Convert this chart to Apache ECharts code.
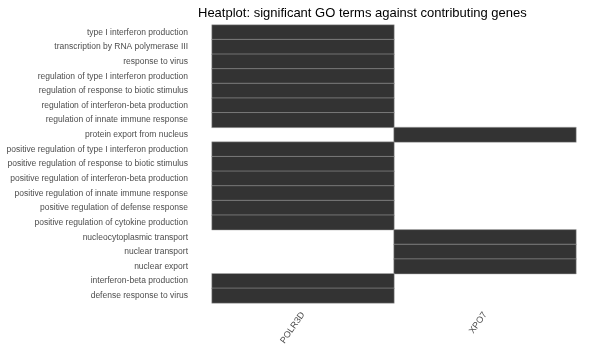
<!DOCTYPE html>
<html>
  <head>
    <meta charset="utf-8" />
    <title>Heatplot</title>
    <script src="https://cdn.jsdelivr.net/npm/echarts@6/dist/echarts.min.js"></script>
    <style>
      * {
        padding: 0;
        margin: 0;
      }
      #chart-panel {
        width: 600px;
        height: 350px;
      }
    </style>
  </head>
  <body>
    <div id="chart-panel"></div>
    <script type="text/javascript">
      var myChart = echarts.init(document.getElementById("chart-panel"));

      // GO terms, top to bottom
      const terms = [
        "type I interferon production",
        "transcription by RNA polymerase III",
        "response to virus",
        "regulation of type I interferon production",
        "regulation of response to biotic stimulus",
        "regulation of interferon-beta production",
        "regulation of innate immune response",
        "protein export from nucleus",
        "positive regulation of type I interferon production",
        "positive regulation of response to biotic stimulus",
        "positive regulation of interferon-beta production",
        "positive regulation of innate immune response",
        "positive regulation of defense response",
        "positive regulation of cytokine production",
        "nucleocytoplasmic transport",
        "nuclear transport",
        "nuclear export",
        "interferon-beta production",
        "defense response to virus",
      ];

      const genes = ["POLR3D", "XPO7"];

      // contributing gene for each term (same order as terms)
      const termGene = [
        "POLR3D", "POLR3D", "POLR3D", "POLR3D", "POLR3D", "POLR3D", "POLR3D",
        "XPO7",
        "POLR3D", "POLR3D", "POLR3D", "POLR3D", "POLR3D", "POLR3D",
        "XPO7", "XPO7", "XPO7",
        "POLR3D", "POLR3D",
      ];

      var cells = [];
      for (var i = 0; i < terms.length; i++) {
        cells.push([genes.indexOf(termGene[i]), i, 1]);
      }

      var option = {
        animation: false,
        title: {
          text: "Heatplot: significant GO terms against contributing genes",
          left: 193,
          top: 2,
          textStyle: {
            fontFamily: "Liberation Sans",
            fontSize: 13,
            fontWeight: "normal",
            color: "#000",
          },
        },
        grid: {
          left: 212,
          right: 24,
          top: 25,
          bottom: 47,
        },
        xAxis: {
          type: "category",
          data: genes,
          axisLine: { show: false },
          axisTick: { show: false },
          splitLine: { show: false },
          axisLabel: {
            rotate: 55,
            margin: 10,
            fontFamily: "Liberation Sans",
            fontSize: 9,
            color: "#4d4d4d",
          },
        },
        yAxis: {
          type: "category",
          data: terms,
          inverse: true,
          axisLine: { show: false },
          axisTick: { show: false },
          splitLine: { show: false },
          axisLabel: {
            margin: 24,
            fontFamily: "Liberation Sans",
            fontSize: 8.5,
            color: "#4d4d4d",
          },
        },
        visualMap: {
          show: false,
          min: 0,
          max: 1,
          inRange: { color: ["#333333", "#333333"] },
        },
        series: [
          {
            type: "heatmap",
            data: cells,
            itemStyle: {
              borderColor: "#b0b0b0",
              borderWidth: 0.5,
            },
          },
        ],
      };

      myChart.setOption(option);
    </script>
  </body>
</html>
